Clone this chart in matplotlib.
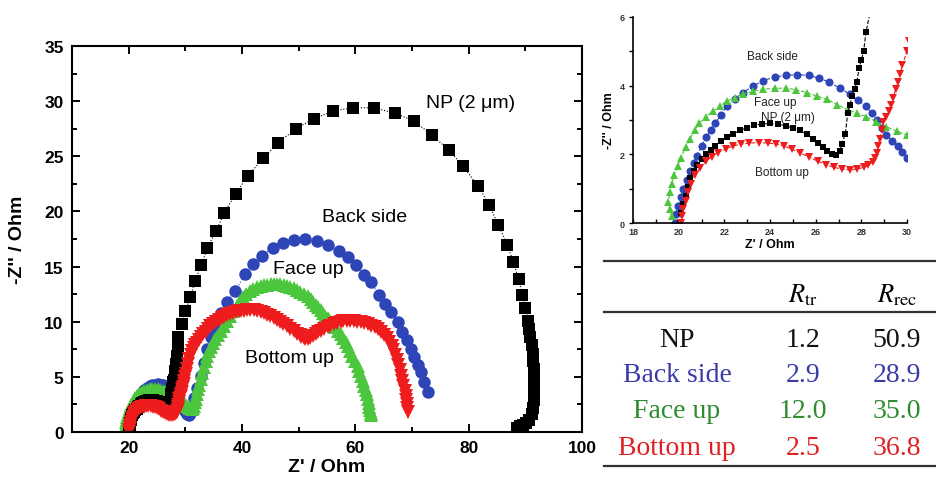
import numpy as np
import matplotlib.pyplot as plt
from matplotlib.ticker import MultipleLocator
from matplotlib.lines import Line2D

plt.rcParams['font.family'] = ['Liberation Sans', 'DejaVu Sans']
plt.rcParams['mathtext.fontset'] = 'stix'

# Nyquist data (Z' , -Z''), Ohm
np_x = [20.06, 20.1, 20.2, 20.3, 20.4, 20.5, 20.65, 20.8, 21.0, 21.2, 21.4, 21.6, 21.85, 22.1,
        22.4, 22.7, 23.0, 23.3, 23.65, 24.0, 24.35, 24.7, 25.0, 25.3, 25.6, 25.9, 26.1, 26.3,
        26.5, 26.7, 26.9, 27.05, 27.15, 27.3, 27.4, 27.5, 27.6, 27.7, 27.8, 27.9, 28.0, 28.1,
        28.2, 28.4, 28.5, 28.7, 28.8, 29.5, 30.0, 30.9, 31.7, 32.8, 33.9, 35.4, 36.9, 38.9,
        41.0, 43.7, 46.3, 49.5, 52.7, 56.0, 59.6, 63.3, 67.0, 70.4, 73.5, 76.5, 79.0, 81.7,
        83.6, 85.2, 86.8, 87.9, 88.8, 89.5, 90.0, 90.5, 90.7, 90.9, 91.1, 91.3, 91.4, 91.5,
        91.6, 91.6, 91.6, 91.5, 91.3, 91.1, 90.7, 90.2, 89.6, 89.0, 88.6]
np_y = [0.0, 0.3, 0.55, 0.8, 1.05, 1.3, 1.5, 1.7, 1.85, 2.0, 2.12, 2.25, 2.38, 2.5,
        2.6, 2.7, 2.78, 2.85, 2.88, 2.9, 2.88, 2.83, 2.77, 2.7, 2.58, 2.45, 2.33, 2.2,
        2.1, 2.0, 1.97, 2.1, 2.3, 2.6, 3.2, 3.45, 3.7, 3.9, 4.1, 4.5, 4.75, 5.0,
        5.55, 6.2, 6.9, 7.7, 8.6, 9.8, 11.0, 12.2, 13.7, 15.1, 16.7, 18.2, 19.9, 21.6,
        23.2, 24.8, 26.2, 27.5, 28.4, 29.1, 29.4, 29.4, 28.9, 28.2, 26.9, 25.6, 24.1, 22.3,
        20.6, 18.8, 17.0, 15.4, 13.9, 12.4, 11.2, 10.1, 9.3, 8.6, 7.9, 7.1, 6.4, 5.7,
        5.0, 4.3, 3.6, 2.9, 2.2, 1.6, 1.1, 0.8, 0.6, 0.5, 0.4]

back_x = [19.84, 19.9, 19.97, 20.1, 20.2, 20.35, 20.5, 20.65, 20.8, 21.0, 21.2, 21.4, 21.6,
          21.85, 22.1, 22.45, 22.8, 23.25, 23.7, 24.2, 24.7, 25.2, 25.7, 26.15, 26.6, 27.05,
          27.5, 27.85, 28.2, 28.45, 28.7, 28.9, 29.1, 29.35, 29.6, 29.8, 30.0, 30.3, 30.6,
          30.9, 31.2, 31.6, 32.1, 32.7, 33.3, 33.9, 34.6, 35.3, 36.3, 37.4, 38.8, 40.6, 42.0,
          43.6, 45.4, 47.3, 49.1, 51.2, 53.2, 55.1, 57.1, 58.7, 60.1, 61.5, 62.7, 64.2, 65.2,
          66.3, 67.5, 68.3, 69.1, 69.8, 70.4, 71.0, 71.6, 72.2, 72.8]
back_y = [0.0, 0.25, 0.5, 0.75, 1.0, 1.25, 1.5, 1.75, 1.95, 2.25, 2.5, 2.7, 2.9,
          3.15, 3.4, 3.6, 3.8, 3.98, 4.15, 4.25, 4.3, 4.32, 4.3, 4.22, 4.1, 3.93,
          3.75, 3.58, 3.4, 3.2, 3.0, 2.78, 2.55, 2.4, 2.25, 2.08, 1.9, 1.6, 1.5,
          1.7, 2.3, 3.1, 4.0, 5.1, 6.3, 7.5, 8.6, 9.6, 10.8, 11.8, 12.8, 14.3, 15.2,
          16.0, 16.7, 17.15, 17.45, 17.5, 17.3, 17.0, 16.4, 15.9, 15.1, 14.2, 13.6, 12.4, 11.6,
          10.9, 10.0, 9.1, 8.3, 7.5, 6.8, 6.1, 5.4, 4.5, 3.6]

face_x = [19.7, 19.6, 19.55, 19.6, 19.7, 19.8, 19.95, 20.1, 20.3, 20.5, 20.7, 20.9, 21.2,
          21.5, 21.8, 22.1, 22.45, 22.8, 23.25, 23.7, 24.2, 24.7, 25.15, 25.6, 26.05, 26.5,
          26.95, 27.4, 27.8, 28.2, 28.65, 29.1, 29.55, 30.0, 30.3, 30.6, 30.9, 31.1, 31.3,
          31.5, 31.7, 31.9, 32.1, 32.3, 32.5, 32.7, 33.0, 33.3, 33.6, 33.9, 34.2, 34.6, 34.9,
          35.3, 35.8, 36.3, 36.8, 37.4, 37.9, 38.5, 39.1, 39.7, 40.2, 40.8, 41.4, 42.0, 42.6,
          43.3, 43.9, 44.5, 45.1, 45.7, 46.2, 46.8, 47.4, 48.0, 48.5, 49.1, 49.7, 50.3, 51.0,
          51.6, 52.1, 52.5, 53.0, 53.4, 53.9, 54.3, 54.7, 55.1, 55.6, 56.0, 56.5, 56.9, 57.4,
          57.8, 58.3, 58.7, 59.1, 59.5, 60.0, 60.4, 60.7, 61.0, 61.3, 61.5, 61.8, 62.0, 62.2,
          62.4, 62.5, 62.6, 62.7, 62.7]
face_y = [0.2, 0.4, 0.6, 0.9, 1.15, 1.4, 1.65, 1.9, 2.2, 2.45, 2.7, 2.9, 3.1,
          3.25, 3.4, 3.55, 3.65, 3.75, 3.83, 3.9, 3.92, 3.93, 3.88, 3.8, 3.7, 3.6,
          3.45, 3.3, 3.2, 3.1, 2.95, 2.8, 2.68, 2.55, 2.4, 2.3, 2.15, 2.1, 2.2,
          2.4, 2.7, 3.0, 3.4, 3.9, 4.3, 4.8, 5.35, 5.9, 6.4, 6.9, 7.3, 7.7, 8.05,
          8.4, 8.8, 9.2, 9.65, 10.1, 10.55, 11.0, 11.45, 11.9, 12.2, 12.5, 12.75, 13.0, 13.15,
          13.25, 13.3, 13.35, 13.4, 13.4, 13.4, 13.4, 13.35, 13.25, 13.15, 13.05, 12.9, 12.7, 12.5,
          12.3, 12.05, 11.8, 11.55, 11.3, 11.05, 10.8, 10.55, 10.3, 10.05, 9.8, 9.5, 9.2, 8.85,
          8.5, 8.15, 7.8, 7.35, 6.9, 6.45, 6.0, 5.55, 5.1, 4.65, 4.2, 3.8, 3.4, 3.0,
          2.6, 2.3, 2.0, 1.75, 1.5]

bottom_x = [20.1, 20.15, 20.2, 20.3, 20.4, 20.55, 20.7, 20.95, 21.2, 21.45, 21.7, 22.05, 22.4,
            22.75, 23.1, 23.5, 23.9, 24.25, 24.6, 24.95, 25.3, 25.7, 26.1, 26.45, 26.8, 27.15,
            27.5, 27.8, 28.1, 28.3, 28.5, 28.6, 28.7, 28.75, 28.8, 28.9, 28.95, 29.1, 29.2,
            29.3, 29.4, 29.5, 29.6, 29.7, 29.8, 30.0, 30.1, 30.3, 30.5, 30.7, 31.0, 31.2, 31.5,
            31.8, 32.1, 32.4, 32.8, 33.2, 33.6, 34.0, 34.4, 34.9, 35.4, 35.9, 36.4, 36.9, 37.4,
            37.9, 38.4, 38.9, 39.4, 39.9, 40.3, 40.9, 41.5, 42.1, 42.7, 43.3, 43.9, 44.5, 45.0,
            45.6, 46.2, 46.7, 47.3, 47.9, 48.5, 49.1, 49.8, 50.2, 50.5, 50.9, 51.2, 51.6, 52.0,
            52.5, 53.0, 53.5, 54.0, 54.5, 55.1, 55.6, 56.2, 56.8, 57.4, 57.9, 58.5, 59.1, 59.7,
            60.3, 61.0, 61.6, 62.2, 62.8, 63.4, 64.0, 64.5, 65.1, 65.6, 66.0, 66.4, 66.7, 67.0,
            67.3, 67.6, 67.9, 68.1, 68.3, 68.5, 68.7, 68.9, 69.0, 69.1, 69.2, 69.3]
bottom_y = [0.0, 0.2, 0.4, 0.65, 0.9, 1.15, 1.4, 1.6, 1.8, 1.93, 2.05, 2.15, 2.25,
            2.3, 2.33, 2.34, 2.33, 2.3, 2.25, 2.15, 2.05, 1.92, 1.8, 1.7, 1.62, 1.57,
            1.55, 1.57, 1.62, 1.68, 1.78, 1.9, 2.05, 2.25, 2.45, 2.7, 2.95, 3.1, 3.25,
            3.45, 3.65, 3.9, 4.1, 4.35, 4.6, 5.0, 5.3, 5.75, 6.2, 6.6, 7.0, 7.3, 7.6,
            7.85, 8.1, 8.35, 8.6, 8.85, 9.1, 9.35, 9.6, 9.8, 10.0, 10.15, 10.3, 10.45, 10.6,
            10.7, 10.8, 10.9, 10.95, 11.0, 11.0, 11.05, 11.05, 11.05, 11.0, 10.9, 10.8, 10.65, 10.5,
            10.35, 10.15, 10.0, 9.8, 9.6, 9.35, 9.15, 8.9, 8.75, 8.6, 8.5, 8.4, 8.45, 8.55,
            8.7, 8.9, 9.05, 9.2, 9.35, 9.5, 9.65, 9.8, 9.9, 10.0, 10.05, 10.05, 10.05, 10.05,
            10.0, 9.95, 9.85, 9.75, 9.65, 9.5, 9.3, 9.1, 8.8, 8.5, 8.15, 7.8, 7.4, 7.0,
            6.55, 6.1, 5.6, 5.1, 4.65, 4.2, 3.75, 3.3, 2.9, 2.5, 2.15, 1.8]

# table values
samples = ["NP", "Back side", "Face up", "Bottom up"]
r_tr = ["1.2", "2.9", "12.0", "2.5"]
r_rec = ["50.9", "28.9", "35.0", "36.8"]

col_black, col_blue, col_green, col_red = "#000000", "#2e45b8", "#4cc63c", "#ee1c1c"
series = [
    (back_x, back_y, "o", col_blue, 9, 5.8),
    (face_x, face_y, "^", col_green, 10, 6.2),
    (np_x, np_y, "s", col_black, 8.5, 5.0),
    (bottom_x, bottom_y, "v", col_red, 10, 6.2),
]

fig = plt.figure(figsize=(9.37, 4.81), dpi=100)

# main Nyquist plot
ax = fig.add_axes([0.0768, 0.0998, 0.5443, 0.8025])
for x, y, m, c, ms, _ in series:
    ax.plot(x, y, linestyle=":", lw=0.8, color=c, marker=m, ms=ms, mew=0)
ax.set_xlim(10, 100)
ax.set_ylim(0, 35)
ax.xaxis.set_major_locator(MultipleLocator(20))
ax.xaxis.set_minor_locator(MultipleLocator(10))
ax.yaxis.set_major_locator(MultipleLocator(5))
ax.yaxis.set_minor_locator(MultipleLocator(2.5))
ax.tick_params(which="both", direction="in", top=True, right=True, width=1.4)
ax.tick_params(which="major", length=6, labelsize=12.5, pad=6)
ax.tick_params(which="minor", length=3.5)
for lab in ax.get_xticklabels() + ax.get_yticklabels():
    lab.set_fontweight("bold")
for sp in ax.spines.values():
    sp.set_linewidth(1.5)
ax.set_xlabel("Z' / Ohm", fontsize=14, fontweight="bold", labelpad=2)
ax.set_ylabel("-Z'' / Ohm", fontsize=14, fontweight="bold", labelpad=13)
ax.text(72.5, 29.9, "NP (2 \u03bcm)", fontsize=14, va="center")
ax.text(54.2, 19.5, "Back side", fontsize=14, va="center")
ax.text(45.4, 14.8, "Face up", fontsize=14, va="center")
ax.text(40.6, 6.8, "Bottom up", fontsize=14, va="center")

# inset: high-frequency region
ins = fig.add_axes([0.6756, 0.5343, 0.2924, 0.4283])
for x, y, m, c, _, ms in series:
    ins.plot(x, y, linestyle="--", lw=0.8, color=c, marker=m, ms=ms, mew=0)
ins.set_xlim(18, 30)
ins.set_ylim(0, 6)
ins.xaxis.set_major_locator(MultipleLocator(2))
ins.xaxis.set_minor_locator(MultipleLocator(1))
ins.yaxis.set_major_locator(MultipleLocator(2))
ins.yaxis.set_minor_locator(MultipleLocator(1))
ins.spines["top"].set_visible(False)
ins.spines["right"].set_visible(False)
for sp in ("left", "bottom"):
    ins.spines[sp].set_linewidth(1.2)
ins.tick_params(axis="x", which="both", direction="in", length=3, width=1)
ins.tick_params(axis="y", which="both", direction="out", length=3, width=1)
ins.tick_params(which="major", labelsize=6.5, labelcolor="#333333", pad=3)
for lab in ins.get_xticklabels() + ins.get_yticklabels():
    lab.set_fontweight("bold")
ins.set_xlabel("Z' / Ohm", fontsize=9, fontweight="bold", labelpad=1)
ins.set_ylabel("-Z'' / Ohm", fontsize=9, fontweight="bold", labelpad=3)
ins.text(23.0, 4.86, "Back side", fontsize=8.5, va="center", color="#222222")
ins.text(23.3, 3.52, "Face up", fontsize=8.5, va="center", color="#222222")
ins.text(23.6, 3.08, "NP (2 \u03bcm)", fontsize=8.5, va="center", color="#222222")
ins.text(23.35, 1.49, "Bottom up", fontsize=8.5, va="center", color="#222222")

# table of resistances
W, H = 937.0, 481.0
def fx(px):
    return px / W
def fy(py):
    return 1 - py / H

for yy in (262, 313, 467):
    fig.add_artist(Line2D([fx(604), fx(937)], [fy(yy), fy(yy)], color="#333333", lw=1.6))

fig.text(fx(803), fy(302), r"$R_{\rm tr}$", fontsize=19, ha="center", va="baseline")
fig.text(fx(897), fy(302), r"$R_{\rm rec}$", fontsize=19, ha="center", va="baseline")

row_colors = ["#111111", "#3a3aa8", "#2e8b2e", "#e02020"]
row_base = [347, 382, 418, 455]
for name, a, b, c, yb in zip(samples, r_tr, r_rec, row_colors, row_base):
    for txt, xc in ((name, 677), (a, 803), (b, 897)):
        fig.text(fx(xc), fy(yb), txt, fontsize=20, ha="center", va="baseline",
                 color=c, family="Liberation Serif")

plt.savefig("out.png", dpi=100)
